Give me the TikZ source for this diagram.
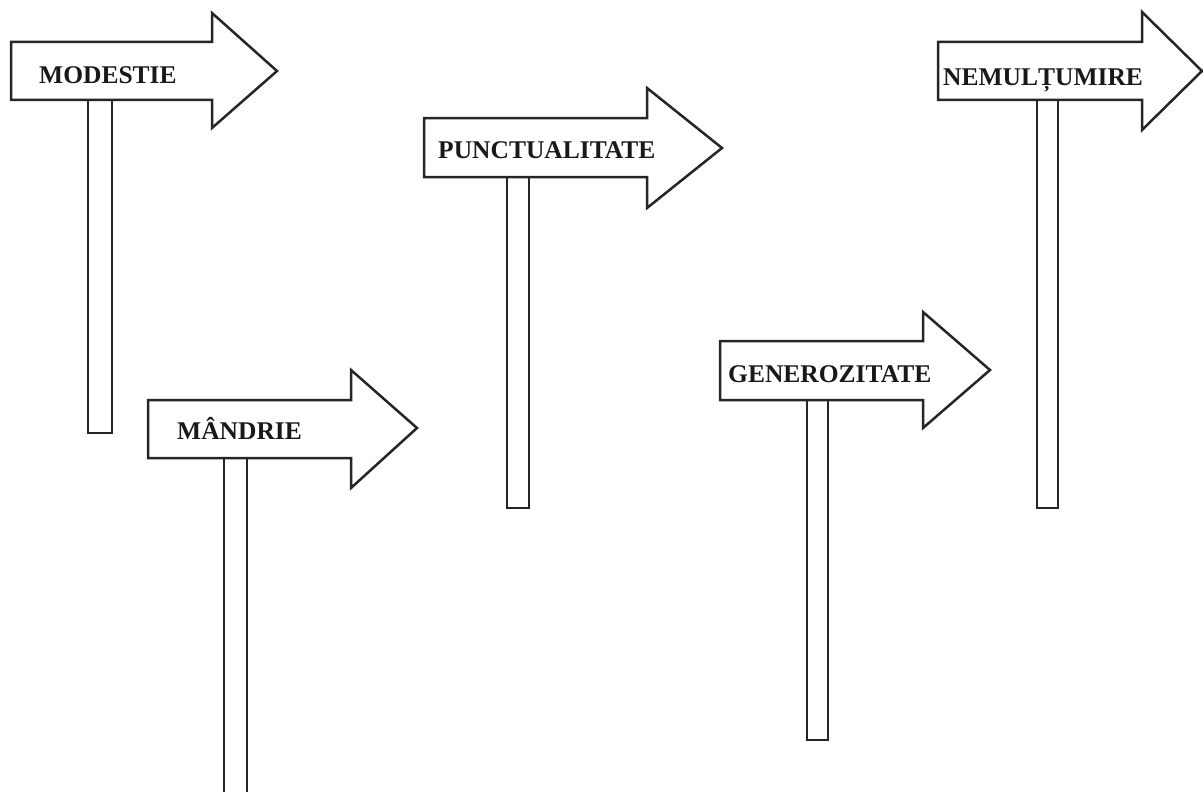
\documentclass[tikz,border=0pt]{standalone}
\usepackage{fontspec}
\setmainfont{Liberation Serif}
\tikzset{
  sign/.style={draw=black!85, line width=2.5pt, line join=miter, fill=white},
  post/.style={draw=black!85, line width=2.5pt, fill=white},
  label/.style={anchor=west, inner sep=0pt, text height=17pt, text depth=0pt,
    font=\fontsize{25.5}{27}\selectfont\bfseries, text=black!90}
}
\begin{document}
\begin{tikzpicture}[x=1pt,y=-1pt]
\useasboundingbox (0,0) rectangle (1203,792);
% MODESTIE
\draw[post] (88,100) rectangle (112,433);
\draw[sign] (11,42) -- (212,42) -- (212,13) -- (277,71) -- (212,128) -- (212,100) -- (11,100) -- cycle;
\node[label] (modestie) at (39,75) {MODESTIE};
% MANDRIE
\draw[post] (224,458) rectangle (247,800);
\draw[sign] (148,400) -- (351,400) -- (351,370) -- (417,428) -- (351,488) -- (351,458) -- (148,458) -- cycle;
\node[label] (mandrie) at (177,431) {MÂNDRIE};
% PUNCTUALITATE
\draw[post] (507,177) rectangle (529,508);
\draw[sign] (424,118) -- (647,118) -- (647,88) -- (722,148) -- (647,208) -- (647,177) -- (424,177) -- cycle;
\node[label] (punct) at (438,150) {PUNCTUALITATE};
% GENEROZITATE
\draw[post] (807,400) rectangle (828,740);
\draw[sign] (720,341) -- (923,341) -- (923,312) -- (990,370) -- (923,428) -- (923,400) -- (720,400) -- cycle;
\node[label] (gen) at (728,374) {GENEROZITATE};
% NEMULTUMIRE
\draw[post] (1037,100) rectangle (1058,508);
\draw[sign] (938,42) -- (1142,42) -- (1142,12) -- (1202,71) -- (1142,130) -- (1142,100) -- (938,100) -- cycle;
\node[label] (nem) at (943,77) {NEMULȚUMIRE};
\end{tikzpicture}
\end{document}
